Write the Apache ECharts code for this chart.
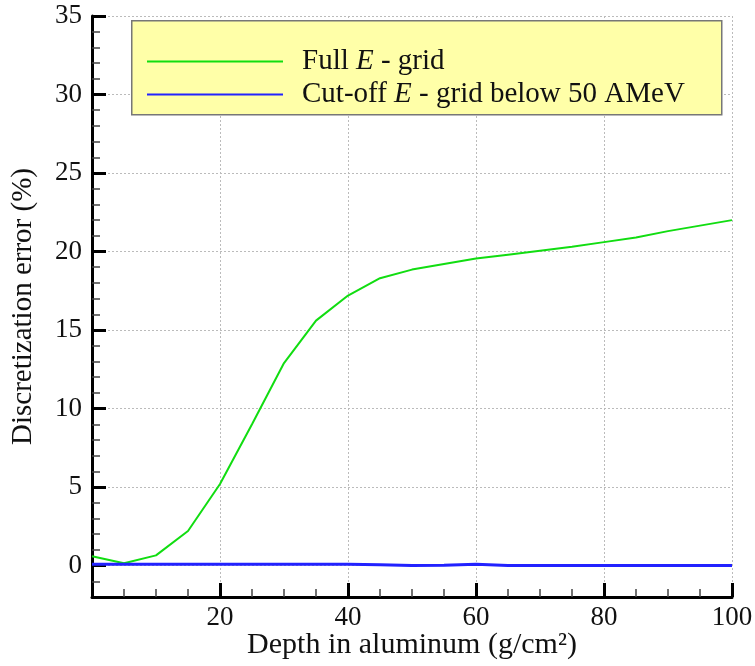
<!DOCTYPE html>
<html>
<head>
<meta charset="utf-8">
<script src="https://cdn.jsdelivr.net/npm/echarts@6/dist/echarts.min.js"></script>
<style>
  html, body { margin: 0; padding: 0; background: #fff; }
  #chart { width: 755px; height: 666px; }
</style>
</head>
<body>
<div id="chart"></div>
<script>
// Depth in aluminum (g/cm^2)
const depth = [0, 5, 10, 15, 20, 25, 30, 35, 40, 45, 50, 55, 60, 65, 70, 75, 80, 85, 90, 95, 100];
// Discretization error (%) with the full energy grid
const fullGrid = [0.6, 0.15, 0.65, 2.2, 5.2, 9.0, 12.9, 15.6, 17.2, 18.3, 18.85, 19.2, 19.55, 19.8, 20.05, 20.3, 20.6, 20.9, 21.3, 21.65, 22.0];
// Discretization error (%) with the grid cut off below 50 AMeV
const cutGrid = [0.08, 0.08, 0.08, 0.08, 0.08, 0.08, 0.08, 0.08, 0.08, 0.05, 0.0, 0.02, 0.08, 0.0, 0.0, 0.0, 0.0, 0.0, 0.0, 0.0, 0.0];
const xTicks = [20, 40, 60, 80, 100];
const yTicks = [0, 5, 10, 15, 20, 25, 30, 35];

const FONT = '"Liberation Serif", "Times New Roman", serif';
const chart = echarts.init(document.getElementById('chart'), null, { renderer: 'canvas' });

const pairs = (xs, ys) => xs.map((x, i) => [x, ys[i]]);

chart.setOption({
  backgroundColor: '#ffffff',
  animation: false,
  grid: { left: 92, right: 23, top: 16, bottom: 69, containLabel: false, outerBoundsMode: 'none' },
  xAxis: {
    type: 'value',
    min: 0, max: 100, interval: 20,
    name: 'Depth in aluminum (g/cm²)',
    nameLocation: 'middle',
    nameGap: 33,
    nameMoveOverlap: false,
    nameTextStyle: { fontFamily: FONT, fontSize: 30, color: '#111' },
    axisLine: { show: true, onZero: false, lineStyle: { color: '#000', width: 3 } },
    axisTick: { show: true, inside: true, length: 14, lineStyle: { color: '#000', width: 3 } },
    minorTick: { show: true, splitNumber: 4, length: 8, lineStyle: { color: '#444', width: 1.5 } },
    axisLabel: {
      fontFamily: FONT, fontSize: 27, color: '#111', margin: 7,
      formatter: v => (xTicks.includes(v) ? String(v) : '')
    },
    splitLine: { show: true, lineStyle: { color: '#bbb', width: 1, type: [2, 2] } }
  },
  yAxis: {
    type: 'value',
    min: -2, max: 35,
    splitNumber: 7, minInterval: 5, maxInterval: 5,
    name: 'Discretization error (%)',
    nameLocation: 'middle',
    nameGap: 54,
    nameMoveOverlap: false,
    nameTextStyle: { fontFamily: FONT, fontSize: 29, color: '#111' },
    axisLine: { show: true, onZero: false, lineStyle: { color: '#000', width: 3 } },
    axisTick: { show: true, inside: true, length: 14, lineStyle: { color: '#000', width: 3 } },
    minorTick: { show: true, splitNumber: 5, length: 8, lineStyle: { color: '#444', width: 1.5 } },
    axisLabel: {
      fontFamily: FONT, fontSize: 27, color: '#111', margin: 10,
      formatter: v => (yTicks.includes(v) ? String(v) : '')
    },
    splitLine: { show: true, lineStyle: { color: '#bbb', width: 1, type: [2, 2] } }
  },
  graphic: [{
    type: 'rect',
    left: 131, top: 20, z: 5,
    shape: { width: 590, height: 94 },
    style: { fill: '#ffffa8', stroke: '#777', lineWidth: 1.5 }
  }],
  legend: {
    left: 142, top: 41, orient: 'vertical', z: 10,
    icon: 'rect', itemWidth: 136, itemHeight: 2, itemGap: 2,
    textStyle: {
      fontFamily: FONT, fontSize: 29, lineHeight: 31, color: '#111', padding: [0, 0, 0, 14],
      rich: { i: { fontFamily: FONT, fontSize: 29, lineHeight: 31, fontStyle: 'italic', color: '#111' } }
    },
    formatter: name => name.replace('E', '{i|E}'),
    data: ['Full E - grid', 'Cut-off E - grid below 50 AMeV']
  },
  series: [
    {
      name: 'Full E - grid', type: 'line', data: pairs(depth, fullGrid),
      showSymbol: false, symbol: 'none',
      lineStyle: { color: '#11dd11', width: 2 }, itemStyle: { color: '#11dd11' }
    },
    {
      name: 'Cut-off E - grid below 50 AMeV', type: 'line', data: pairs(depth, cutGrid),
      showSymbol: false, symbol: 'none',
      lineStyle: { color: '#2222ff', width: 3 }, itemStyle: { color: '#2222ff' }
    }
  ]
});
</script>
</body>
</html>
